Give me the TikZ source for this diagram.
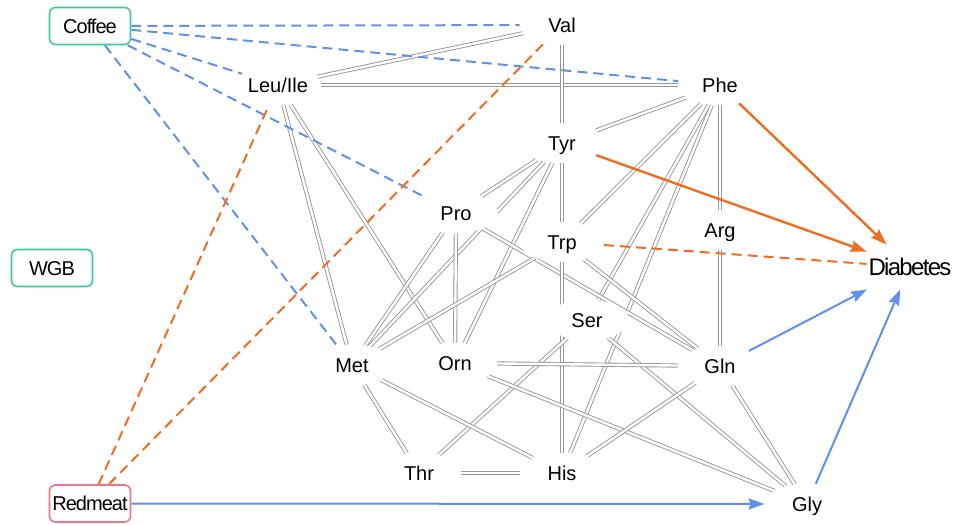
\documentclass[tikz,border=0pt]{standalone}
\usepackage{fontspec}
\setmainfont{Liberation Sans}
\newfontfamily\TightFont[LetterSpace=-5]{Liberation Sans}
\newfontfamily\TighterFont[LetterSpace=-7]{Liberation Sans}
\usetikzlibrary{shapes.geometric,arrows.meta,backgrounds}

\definecolor{EdgeBlue}{RGB}{95,145,235}
\definecolor{EdgeOrange}{RGB}{242,108,30}
\definecolor{LinkGray}{RGB}{150,150,150}
\definecolor{BoxGreen}{RGB}{60,200,160}
\definecolor{BoxRed}{RGB}{232,120,135}

\begin{document}
\begin{tikzpicture}[x=0.5pt,y=-0.5pt,
    metab/.style={ellipse,fill=white,inner sep=0pt,minimum width=42pt,minimum height=20pt,
      text height=7.2pt,text depth=0pt,font=\fontsize{10}{12}\selectfont},
    expo/.style={rectangle,rounded corners=3pt,draw=BoxGreen,line width=0.8pt,fill=white,
      inner sep=0pt,minimum width=40.5pt,minimum height=18.5pt,
      text height=7.2pt,text depth=0pt,font=\TightFont\fontsize{10}{12}\selectfont},
    link/.style={draw=LinkGray,line width=0.45pt,double=white,double distance=1.2pt},
    headstyle/.style={-{Stealth[length=8pt,width=5.5pt,inset=1pt]}},
    negdash/.style={EdgeBlue,line width=1pt,dash pattern=on 5pt off 3pt},
    posdash/.style={EdgeOrange,line width=1pt,dash pattern=on 5pt off 3pt},
    negarrow/.style={EdgeBlue,line width=1pt,headstyle},
    posarrow/.style={EdgeOrange,line width=1.2pt,headstyle}]
  \useasboundingbox (0,0) rectangle (957,524);

  \foreach \Name/\X/\Y/\Label in {val/562/25/Val, leu/278/85/{Leu/Ile}, phe/720/85/Phe,
      tyr/562/143/Tyr, pro/456/213/Pro, trp/562/242/Trp, arg/720/230/Arg, ser/587/320/Ser,
      met/352/365/Met, orn/455/363/Orn, gln/720/366/Gln, thr/419/473/Thr, his/562/473/His,
      gly/807/504/Gly}
    \node[metab] (\Name) at (\X,\Y) {\Label};

  \node[expo] (coffee) at (90,26) {Coffee};
  \node[expo] (wgb) at (52,268) {WGB};
  \node[expo,draw=BoxRed] (redmeat) at (90,503.5) {Redmeat};
  \node[rectangle,inner sep=0pt,minimum width=43pt,minimum height=22pt,
    font=\TighterFont\fontsize{12}{14}\selectfont] (diab) at (910,267) {Diabetes};

  \begin{scope}[on background layer]
    \foreach \From/\To in {leu/val, leu/phe, leu/met, leu/orn, val/tyr, phe/tyr, phe/trp,
        phe/ser, phe/his, phe/arg, tyr/trp, tyr/pro, tyr/met, tyr/orn, pro/met, pro/orn,
        pro/gln, trp/met, trp/his, trp/gln, arg/gln, ser/thr, ser/gly, orn/gln, orn/gly,
        met/thr, met/his, thr/his, gln/his, gln/gly}
      \draw[link] (\From) -- (\To);

    \foreach \To in {val, phe, leu, pro, met}
      \draw[negdash] (coffee) -- (\To);
    \draw[posdash] (redmeat) -- (leu);
    \draw[posdash] (redmeat) -- (val);
    \draw[posdash] (trp) -- (diab);

    \draw[posarrow] (phe) -- (diab);
    \draw[posarrow] (tyr) -- (diab);
    \draw[negarrow] (gln) -- (diab);
    \draw[negarrow] (gly) -- (diab);
    \draw[negarrow] (redmeat) -- (gly);
  \end{scope}
\end{tikzpicture}
\end{document}
